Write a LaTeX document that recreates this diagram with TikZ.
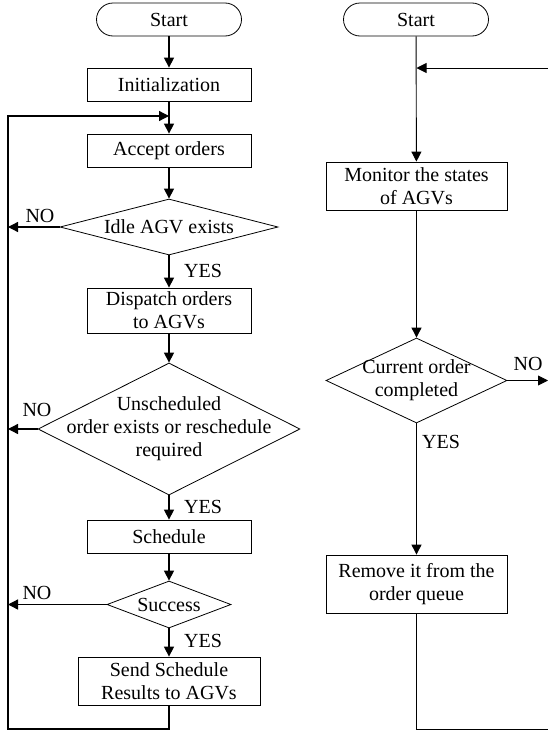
\documentclass[tikz,border=0pt]{standalone}
\usepackage{fontspec}
\setmainfont{Liberation Serif}
\usetikzlibrary{shapes.geometric,arrows.meta}

\begin{document}
\begin{tikzpicture}
    [x=1pt,y=-1pt,%
      every node/.style={font=\fontsize{20}{23}\selectfont,inner sep=0pt},%
      startbox/.style={draw,line width=0.8pt,rectangle,rounded corners=16.5pt,minimum width=145pt,minimum height=33pt},%
      procbox/.style={draw,line width=0.8pt,rectangle,align=center,minimum height=33pt},%
      decision/.style={draw,line width=0.8pt,diamond},%
      flow/.style={line width=1.3pt,-{Triangle[length=10pt,width=10pt]}},%
      flowr/.style={line width=0.9pt,-{Triangle[length=10pt,width=10pt]}},%
      link/.style={line width=0.9pt}]
    \useasboundingbox (0,0) rectangle (548,731);

    % left flow: order scheduling
    \node[startbox] (startl) at (169,19.5) {Start};
    \node[procbox,minimum width=164pt] (init) at (169,84.5) {Initialization};
    \node[procbox,minimum width=164pt] (accept) at (169,150.5) {Accept orders};
    \node[decision,minimum width=218pt,minimum height=56pt,
          label={center:Idle AGV exists}] (idle) at (169,227) {};
    \node[procbox,minimum width=164pt,minimum height=45pt] (dispatch) at (169,310.5)
          {Dispatch orders\\to AGVs};
    \node[decision,minimum width=262pt,minimum height=132pt,
          label={[align=center]center:Unscheduled\\order exists or reschedule\\required}] (unsched) at (169,429) {};
    \node[procbox,minimum width=164pt] (schedule) at (169,536.5) {Schedule};
    \node[decision,minimum width=124pt,minimum height=47pt,
          label={center:Success}] (success) at (169,604.5) {};
    \node[procbox,minimum width=182pt,minimum height=48pt] (send) at (169,681)
          {Send Schedule\\Results to AGVs};

    \coordinate (cornbl) at (8,729);
    \coordinate (corntl) at (8,116);
    \coordinate (joinl) at (169,116);
    \coordinate (sendlow) at (169,729);

    \draw[flow] (startl) -- (init);
    \draw[flow] (init) -- (accept);
    \draw[flow] (accept) -- (idle);
    \draw[flow] (idle) -- (dispatch);
    \draw[flow] (dispatch) -- (unsched);
    \draw[flow] (unsched) -- (schedule);
    \draw[flow] (schedule) -- (success);
    \draw[flow] (success) -- (send);
    \draw[flow] (idle.west) -- (idle.west -| cornbl);
    \draw[flow] (unsched.west) -- (unsched.west -| cornbl);
    \draw[flow] (success.west) -- (success.west -| cornbl);
    \draw[flow] (send.south) -- (sendlow) -- (cornbl) -- (corntl) -- (joinl);

    \node (noidle) at (40,216) {NO};
    \node (yesidle) at (203,271) {YES};
    \node (nounsched) at (37,410) {NO};
    \node (yesunsched) at (203,507) {YES};
    \node (nosuccess) at (37,593) {NO};
    \node (yessuccess) at (203,641) {YES};

    % right flow: AGV monitoring
    \node[startbox] (startr) at (416,19.5) {Start};
    \node[procbox,minimum width=181pt,minimum height=48pt] (monitor) at (416.5,186)
          {Monitor the states\\of AGVs};
    \node[decision,minimum width=181pt,minimum height=85pt,
          label={[align=center]center:Current order\\completed}] (current) at (416.5,380.5) {};
    \node[procbox,minimum width=181pt,minimum height=58pt] (remove) at (416.5,584)
          {Remove it from the\\order queue};

    \coordinate (fbr) at (548,68);
    \coordinate (joinr) at (416.5,68);
    \coordinate (remlow) at (416.5,729);

    \draw[flowr] (startr) -- (monitor);
    \draw[flowr] (fbr) -- (joinr);
    \draw[flowr] (monitor) -- (current);
    \draw[flowr] (current) -- (remove);
    \draw[flowr] (current.east) -- (current.east -| fbr);
    \draw[link] (remove.south) -- (remlow) -- (remlow -| fbr);

    \node (nocurrent) at (528,364) {NO};
    \node (yescurrent) at (441,442) {YES};
\end{tikzpicture}
\end{document}
